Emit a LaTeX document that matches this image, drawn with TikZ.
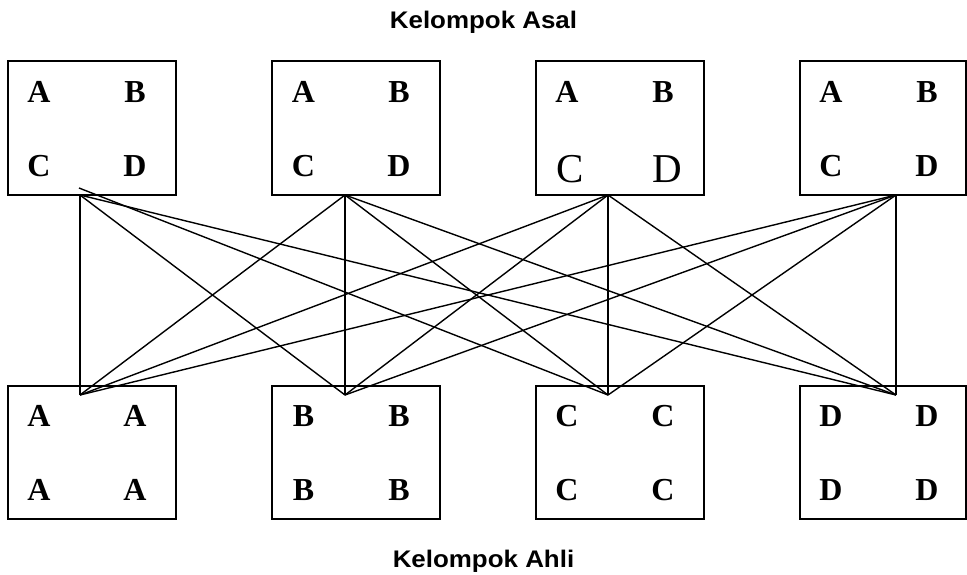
\documentclass[tikz,border=0pt]{standalone}
\usepackage{fontspec}
\usepackage{graphicx}
\setmainfont{Liberation Serif}
\newfontfamily\titlefont{Liberation Sans}
\begin{document}
\begin{tikzpicture}[x=1pt,y=-1pt,
  box/.style={draw,line width=1.6pt,minimum width=168pt,minimum height=134pt,inner sep=0pt},
  ltr/.style={anchor=base,inner sep=0pt,font=\fontsize{32}{36}\selectfont\bfseries},
  bigltr/.style={anchor=base,inner sep=0pt,font=\fontsize{41}{46}\selectfont},
  ttl/.style={anchor=base,inner sep=0pt,font=\fontsize{24}{28}\selectfont\titlefont\bfseries},
  link/.style={line width=1.4pt}]
\useasboundingbox (0,0) rectangle (967,574);
% titles
\node[ttl] (tA) at (483.5,28) {\scalebox{1.08}[1]{Kelompok Asal}};
\node[ttl] (tB) at (483.5,567) {\scalebox{1.08}[1]{Kelompok Ahli}};
% connection points
\coordinate (p1) at (80,195);
\coordinate (p2) at (345,195);
\coordinate (p3) at (608,195);
\coordinate (p4) at (896,195);
\coordinate (q1) at (79,188);
\coordinate (r1) at (80,395);
\coordinate (r2) at (345,395);
\coordinate (r3) at (608,395);
\coordinate (r4) at (896,395);
% connectors
\draw[link] (p1) -- (r1);
\draw[link] (p1) -- (r2);
\draw[link] (q1) -- (r3);
\draw[link] (p1) -- (r4);
\draw[link] (p2) -- (r1);
\draw[link] (p2) -- (r2);
\draw[link] (p2) -- (r3);
\draw[link] (p2) -- (r4);
\draw[link] (p3) -- (r1);
\draw[link] (p3) -- (r2);
\draw[link] (p3) -- (r3);
\draw[link] (p3) -- (r4);
\draw[link] (p4) -- (r1);
\draw[link] (p4) -- (r2);
\draw[link] (p4) -- (r3);
\draw[link] (p4) -- (r4);
% top boxes
\node[box] (t1) at (92,128) {};
\node[box] (t2) at (356,128) {};
\node[box] (t3) at (620,128) {};
\node[box,minimum width=166pt] (t4) at (883,128) {};
% bottom boxes
\node[box,minimum height=133pt] (b1) at (92,452.5) {};
\node[box,minimum height=133pt] (b2) at (356,452.5) {};
\node[box,minimum height=133pt] (b3) at (620,452.5) {};
\node[box,minimum height=133pt,minimum width=166pt] (b4) at (883,452.5) {};
% top letters
\node[ltr] (t1a) at (39,102) {A};
\node[ltr] (t1b) at (135,102) {B};
\node[ltr] (t1c) at (39,176) {C};
\node[ltr] (t1d) at (135,176) {D};
\node[ltr] (t2a) at (303.5,102) {A};
\node[ltr] (t2b) at (399,102) {B};
\node[ltr] (t2c) at (303.5,176) {C};
\node[ltr] (t2d) at (399,176) {D};
\node[ltr] (t3a) at (567,102) {A};
\node[ltr] (t3b) at (663,102) {B};
\node[bigltr] (t3c) at (570,182) {C};
\node[bigltr] (t3d) at (667.5,182) {D};
\node[ltr] (t4a) at (831,102) {A};
\node[ltr] (t4b) at (927,102) {B};
\node[ltr] (t4c) at (831,176) {C};
\node[ltr] (t4d) at (927,176) {D};
% bottom letters
\node[ltr] (b1a) at (39,426) {A};
\node[ltr] (b1b) at (135,426) {A};
\node[ltr] (b1c) at (39,500) {A};
\node[ltr] (b1d) at (135,500) {A};
\node[ltr] (b2a) at (303.5,426) {B};
\node[ltr] (b2b) at (399,426) {B};
\node[ltr] (b2c) at (303.5,500) {B};
\node[ltr] (b2d) at (399,500) {B};
\node[ltr] (b3a) at (567,426) {C};
\node[ltr] (b3b) at (663,426) {C};
\node[ltr] (b3c) at (567,500) {C};
\node[ltr] (b3d) at (663,500) {C};
\node[ltr] (b4a) at (831,426) {D};
\node[ltr] (b4b) at (927,426) {D};
\node[ltr] (b4c) at (831,500) {D};
\node[ltr] (b4d) at (927,500) {D};
\end{tikzpicture}
\end{document}
